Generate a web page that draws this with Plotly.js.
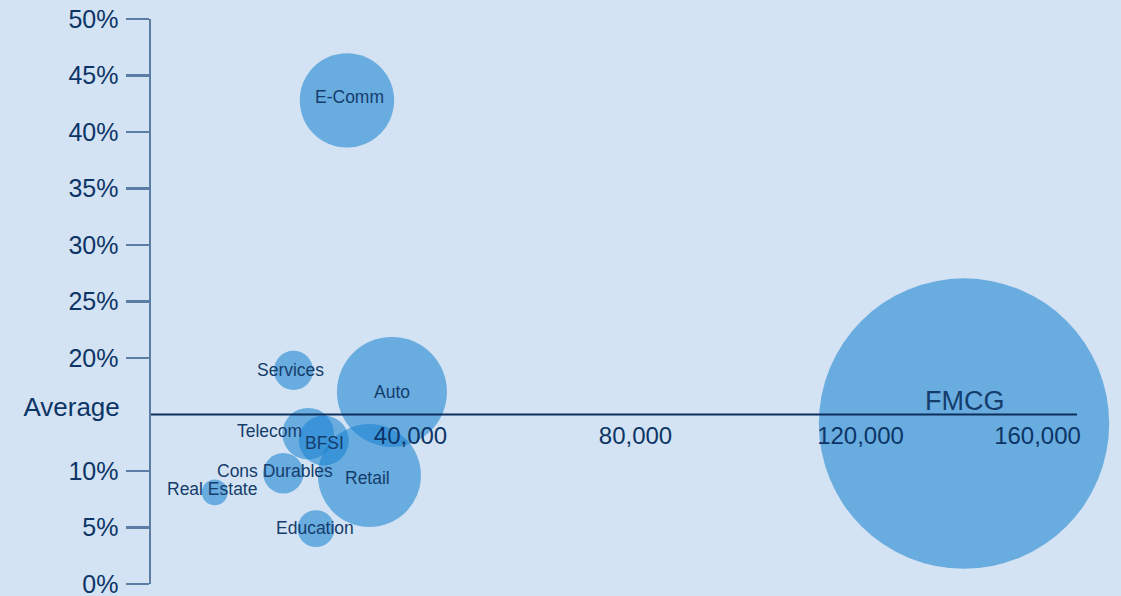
<!DOCTYPE html>
<html>
<head>
<meta charset="utf-8">
<script src="https://cdn.plot.ly/plotly-3.0.1.min.js"></script>
<style>
  html, body { margin: 0; padding: 0; background: #d4e3f3; }
  #chart { width: 1121px; height: 596px; }
</style>
</head>
<body>
<div id="chart"></div>
<script>
// ---- data ----
const sectors   = ["E-Comm", "Services", "Auto", "Telecom", "BFSI", "Cons Durables", "Real Estate", "Retail", "Education", "FMCG"];
const xValues   = [28700, 19200, 36700, 21800, 24600, 17400, 5200, 32700, 23200, 138400];
const yValues   = [42.8, 18.9, 17.0, 13.3, 12.7, 9.8, 8.1, 9.6, 4.9, 14.2];
const sizes     = [10.57, 1.82, 14.35, 3.16, 2.96, 1.94, 0.79, 12.58, 1.62, 100];
const averageValue = 15;
const yTickVals = [0, 5, 10, 20, 25, 30, 35, 40, 45, 50];
const yTickText = ["0%", "5%", "10%", "20%", "25%", "30%", "35%", "40%", "45%", "50%"];
const xTickVals = [40000, 80000, 120000];
const xTickText = ["40,000", "80,000", "120,000"];
const xLastTickVal = [160000];
const xLastTickText = ["160,000"];

// ---- label styling (pixel offsets, font sizes) ----
const labelShiftX = [3, -3, 0, -39, 1, -8, -3, -2, -1, 0];
const labelShiftY = [3, 0, 0, 3, -3, 2, 3, -2, 1, 23];
const labelSize   = [17.5, 17.5, 17.5, 17.5, 17.5, 17.5, 17.5, 17.5, 17.5, 27];

const FONT = "'Liberation Sans', Arial, Helvetica, sans-serif";
const NAVY = "#0c3566";
const LABEL = "#153d6c";
const AXIS = "#5b7ca3";

const xRange = [-6133, 166311];
const yRange = [0, 50];

const bubbles = {
  type: "scatter",
  mode: "markers",
  x: xValues,
  y: yValues,
  text: sectors,
  hoverinfo: "text",
  marker: {
    size: sizes,
    sizemode: "area",
    sizeref: 0.002372,
    color: "rgb(25,130,209)",
    opacity: 0.57,
    line: { width: 0 }
  },
  showlegend: false,
  cliponaxis: false
};

const annotations = sectors.map((s, i) => ({
  x: xValues[i], y: yValues[i], xref: "x", yref: "y",
  text: s, showarrow: false,
  xshift: labelShiftX[i], yshift: labelShiftY[i],
  font: { family: FONT, size: labelSize[i], color: LABEL }
}));

const layout = {
  width: 1121, height: 596,
  paper_bgcolor: "#d4e3f3",
  plot_bgcolor: "#d4e3f3",
  margin: { l: 151, r: 0, t: 19, b: 12, pad: 0 },
  font: { family: FONT, color: NAVY },
  showlegend: false,
  xaxis: {
    range: xRange,
    anchor: "free", position: averageValue / (yRange[1] - yRange[0]),
    showline: false, showgrid: false, zeroline: false,
    ticks: "",
    tickmode: "array", tickvals: xTickVals, ticktext: xTickText,
    ticklabelstandoff: 4,
    ticklabeloverflow: "allow",
    tickfont: { family: FONT, size: 24, color: NAVY },
    automargin: false
  },
  xaxis2: {
    range: xRange,
    overlaying: "x",
    anchor: "free", position: averageValue / (yRange[1] - yRange[0]),
    showline: false, showgrid: false, zeroline: false,
    ticks: "",
    tickmode: "array", tickvals: xLastTickVal, ticktext: xLastTickText,
    ticklabelshift: -48,
    ticklabelstandoff: 4,
    ticklabeloverflow: "allow",
    tickfont: { family: FONT, size: 24, color: NAVY },
    automargin: false
  },
  yaxis: {
    range: yRange,
    showline: true, linecolor: AXIS, linewidth: 2.5,
    showgrid: false, zeroline: false,
    ticks: "outside", ticklen: 23, tickwidth: 2.5, tickcolor: AXIS,
    tickmode: "array", tickvals: yTickVals, ticktext: yTickText,
    ticklabelstandoff: 2,
    ticklabeloverflow: "allow",
    tickfont: { family: FONT, size: 25, color: NAVY },
    automargin: false
  },
  yaxis2: {
    range: yRange,
    overlaying: "y", side: "left",
    showline: false, showgrid: false, zeroline: false,
    ticks: "outside", ticklen: 23, tickcolor: "rgba(0,0,0,0)",
    tickmode: "array", tickvals: [averageValue], ticktext: ["Average"],
    ticklabelshift: -8,
    ticklabelstandoff: 2,
    ticklabeloverflow: "allow",
    tickfont: { family: FONT, size: 26, color: NAVY },
    automargin: false
  },
  shapes: [{
    type: "line", layer: "above",
    xref: "paper", x0: 0, x1: 0.9546,
    yref: "y", y0: averageValue, y1: averageValue,
    line: { color: "#0d2f5c", width: 2 }
  }],
  annotations: annotations
};

const dummyX2 = { type: "scatter", x: [], y: [], xaxis: "x2", yaxis: "y", showlegend: false, hoverinfo: "skip" };
const dummyY2 = { type: "scatter", x: [], y: [], xaxis: "x", yaxis: "y2", showlegend: false, hoverinfo: "skip" };

Plotly.newPlot("chart", [bubbles, dummyX2, dummyY2], layout, { displayModeBar: false, staticPlot: true });
</script>
</body>
</html>
